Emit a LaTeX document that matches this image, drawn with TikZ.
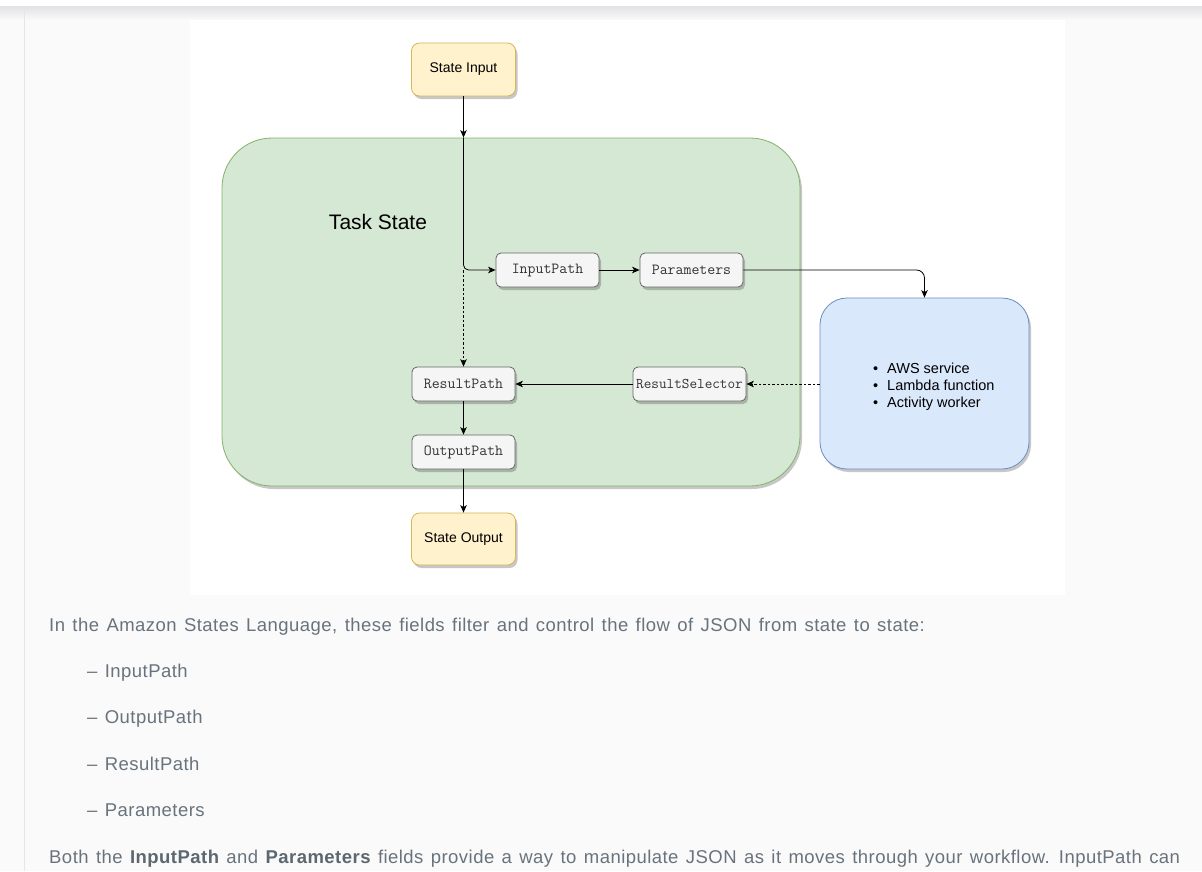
\documentclass[tikz,border=0pt]{standalone}
\usepackage{fontspec}
\setmainfont{Liberation Sans}
\newfontfamily\pagef[LetterSpace=2.5,WordSpace=1.32]{Liberation Sans}
\usetikzlibrary{shadows,arrows.meta,calc}
\definecolor{pagebg}{HTML}{FAFAFA}
\definecolor{barc}{HTML}{E2E2E6}
\definecolor{linec}{HTML}{E6E6E6}
\definecolor{ybg}{HTML}{FFF2CC}
\definecolor{ybd}{HTML}{D6B656}
\definecolor{gbg}{HTML}{D5E8D4}
\definecolor{gbd}{HTML}{82B366}
\definecolor{bbg}{HTML}{DAE8FC}
\definecolor{bbd}{HTML}{6C8EBF}
\definecolor{wbg}{HTML}{F5F5F5}
\definecolor{wbd}{HTML}{666666}
\definecolor{txt}{HTML}{68737D}
\definecolor{txtb}{HTML}{5C6770}
\tikzset{
  dshadow/.style={drop shadow={shadow xshift=2pt,shadow yshift=-3pt,opacity=0.22,fill=black}},
  iobox/.style={draw=ybd, fill=ybg, rounded corners=8pt, minimum width=104pt, minimum height=53pt,
    inner sep=0pt, line width=0.8pt, font=\fontsize{14}{16}\selectfont, dshadow},
  fldbox/.style={draw=wbd, fill=wbg, rounded corners=5pt, minimum width=103pt, minimum height=34pt,
    inner sep=0pt, line width=0.8pt, font=\ttfamily\fontsize{15.4}{17}\selectfont, text=black!80, dshadow},
  arr/.style={-{Stealth[length=7.5pt,width=6.5pt,inset=2pt]}, line width=0.8pt, black},
  dotarr/.style={arr, dash pattern=on 2.5pt off 2pt},
  pagetxt/.style={anchor=base west, inner sep=0pt, text=txt, font=\pagef\fontsize{18.5}{22}\selectfont},
}
\begin{document}
\begin{tikzpicture}[x=1pt,y=-1pt]
\useasboundingbox (0,0) rectangle (1202,871);
% page
\fill[pagebg] (0,0) rectangle (1202,871);
\fill[white] (0,0) rectangle (1202,6);
\shade[top color=barc, bottom color=pagebg] (0,6) rectangle (1202,20);
\draw[linec, line width=1pt] (24.5,6) -- (24.5,871);
\fill[white] (189.5,20) rectangle (1065,595);

% container
\node[draw=gbd, fill=gbg, rounded corners=50pt, minimum width=578pt, minimum height=348pt,
  line width=0.8pt, dshadow] (task) at (511,312) {};
\node[font=\fontsize{21}{24}\selectfont] (tasklbl) at (378,222) {Task State};

% nodes
\node[iobox] (sin) at (463.5,69.5) {\raisebox{-1.5pt}{State Input}};
\node[fldbox] (ip) at (547.5,270) {InputPath};
\node[fldbox] (par) at (691.5,270) {Parameters};
\node[fldbox] (rp) at (463.5,384) {ResultPath};
\node[fldbox, minimum width=113pt, font=\ttfamily\fontsize{14.8}{17}\selectfont] (rs) at (689.5,384) {ResultSelector};
\node[fldbox] (op) at (463.5,452) {OutputPath};
\node[iobox, minimum height=52pt] (sout) at (463.5,539) {\raisebox{-1.5pt}{State Output}};
\node[draw=bbd, fill=bbg, rounded corners=27pt, minimum width=209pt, minimum height=171pt,
  line width=0.8pt, dshadow] (svc) at (924.5,383.5) {};
\node[anchor=west, align=left, inner sep=0pt, font=\fontsize{14.5}{17}\selectfont] (svclist) at (873,387)
  {\makebox[14pt][l]{\textbullet}AWS service\\\makebox[14pt][l]{\textbullet}Lambda function\\\makebox[14pt][l]{\textbullet}Activity worker};

% connectors
\coordinate (entry) at (sin.south |- task.north);
\coordinate (split) at (sin.south |- ip.west);
\draw[arr] (sin.south) -- (entry);
\draw[arr, rounded corners=5pt] (entry) |- (ip.west);
\draw[dotarr] (split) -- (rp.north);
\draw[arr] (ip.east) -- (par.west);
\draw[arr, rounded corners=8pt] (par.east) -| (svc.north);
\draw[dotarr] (svc.west |- rs.east) -- (rs.east);
\draw[arr] (rs.west) -- (rp.east);
\draw[arr] (rp.south) -- (op.north);
\draw[arr] (op.south) -- (sout.north);

% page text
\node[pagetxt] (t1) at (49,631) {In the Amazon States Language, these fields filter and control the flow of JSON from state to state:};
\node[pagetxt] (t2) at (87,677) {– InputPath};
\node[pagetxt] (t3) at (87,723) {– OutputPath};
\node[pagetxt] (t4) at (87,770) {– ResultPath};
\node[pagetxt] (t5) at (87,816) {– Parameters};
\node[pagetxt] (t6) at (49,863) {Both the \textcolor{txtb}{\bfseries InputPath} and \textcolor{txtb}{\bfseries Parameters} fields provide a way to manipulate JSON as it moves through your workflow. InputPath can};
\end{tikzpicture}
\end{document}
